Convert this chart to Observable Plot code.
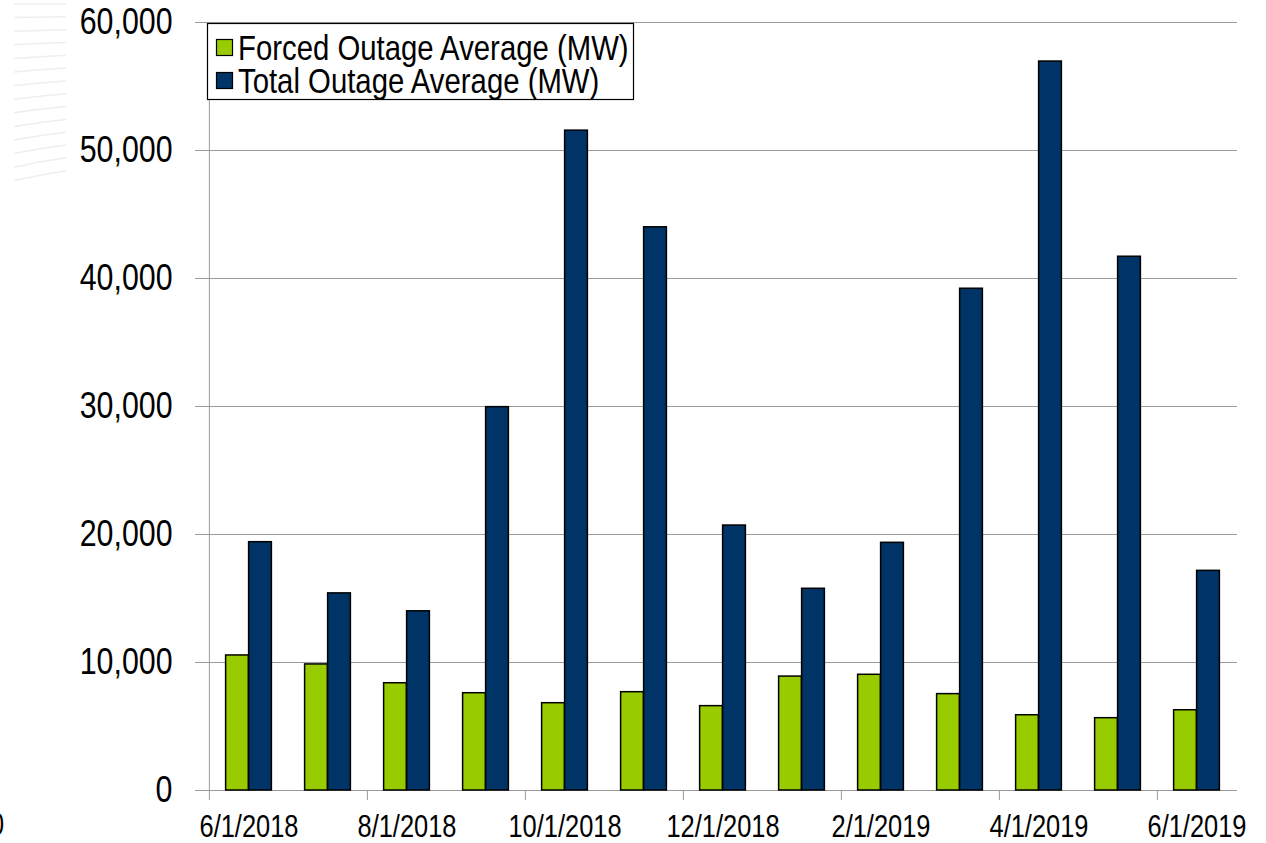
<!DOCTYPE html>
<html><head><meta charset="utf-8">
<script src="https://cdn.jsdelivr.net/npm/d3@7"></script>
<script src="https://cdn.jsdelivr.net/npm/@observablehq/plot@0.6"></script>
<style>
body{margin:0;background:#fff;}
#wrap{position:relative;width:1266px;height:843px;overflow:hidden;}
#overlay{position:absolute;left:0;top:0;pointer-events:none;}
#chart{position:absolute;left:0;top:0;}
</style></head>
<body>
<div id="wrap"><div id="chart"></div><svg id="overlay" width="1266" height="843"></svg></div>
<script>
// ---- data ----
const months = ["6/1/2018","7/1/2018","8/1/2018","9/1/2018","10/1/2018","11/1/2018","12/1/2018",
                "1/1/2019","2/1/2019","3/1/2019","4/1/2019","5/1/2019","6/1/2019"];
const forcedOutage = [10550, 9850, 8380, 7600, 6820, 7680, 6590, 8900, 9040, 7530, 5880, 5650, 6270];
const totalOutage  = [19400, 15400, 14000, 29950, 51550, 44000, 20700, 15760, 19350, 39200, 56950, 41700, 17160];
const seriesNames = ["Forced Outage Average (MW)", "Total Outage Average (MW)"];
const seriesColors = ["#99cc00", "#003366"];
const yTicks = [0, 10000, 20000, 30000, 40000, 50000, 60000];
const xTickLabels = months.filter((d, i) => i % 2 === 0);

// ---- layout ----
const FONT = '"Liberation Sans Narrow","Arial Narrow","Liberation Sans",Arial,sans-serif';
const NARROW = 0.82;
const W = 1266, H = 843, ML = 207, MR = 29, MT = 22, MB = 53;
const bw = (W - ML - MR) / months.length;
const barW = 23;
const GRID = "#9a9a9a";

const rows = months.map((m, i) => ({month: m, forced: forcedOutage[i], total: totalOutage[i]}));

const chart = Plot.plot({
  width: W, height: H,
  marginLeft: ML, marginRight: MR, marginTop: MT, marginBottom: MB,
  style: {fontFamily: FONT, background: "transparent", color: "#000", overflow: "visible"},
  x: {type: "band", domain: months, padding: 0},
  y: {domain: [0, 60000]},
  marks: [
    Plot.gridY({ticks: yTicks, stroke: GRID, strokeOpacity: 1, strokeWidth: 1}),
    Plot.axisY({ticks: yTicks, tickSize: 12, tickPadding: 23, tickFormat: d3.format(","),
                fontSize: 37, stroke: GRID, strokeOpacity: 1, label: null}),
    Plot.ruleX([months[0]], {x: d => d, dx: -bw / 2, y1: 0, y2: 60000, stroke: GRID}),
    Plot.barY(rows, {x: "month", y: "forced", fill: seriesColors[0], stroke: "#000", strokeWidth: 1.5,
                     insetLeft: bw / 2 - barW, insetRight: bw / 2}),
    Plot.barY(rows, {x: "month", y: "total", fill: seriesColors[1], stroke: "#000", strokeWidth: 1.5,
                     insetLeft: bw / 2, insetRight: bw / 2 - barW}),
    Plot.axisX({ticks: xTickLabels, tickSize: 10, tickFormat: () => "", dx: -bw / 2,
                stroke: GRID, strokeOpacity: 1, label: null}),
    Plot.axisX({ticks: xTickLabels, tickSize: 0, tickPadding: 24, fontSize: 31, label: null})
  ]
});
document.getElementById("chart").appendChild(chart);

// ---- overlay: legend, faint watermark, clipped label ----
const ov = d3.select("#overlay");
const wm = ov.append("g").attr("fill", "none").attr("stroke", "#eeeeee").attr("stroke-width", 1.5);
for (let k = 0; k < 14; k++) {
  const y = 4 + k * 13;
  const bend = k * 0.6;
  wm.append("path").attr("d", `M14,${y + bend} Q40,${y + bend * 0.2} 66,${y - bend * 0.3}`);
}
ov.append("text").attr("x", -10).attr("y", 835).attr("font-family", FONT).attr("font-size", 31).text("0");

const lg = ov.append("g").attr("transform", "translate(207,23)");
lg.append("rect").attr("x", 0.5).attr("y", 0.5).attr("width", 426).attr("height", 76)
  .attr("fill", "#fff").attr("stroke", "#000").attr("stroke-width", 1.2);
seriesNames.forEach((name, i) => {
  const cy = 24.5 + i * 33;
  lg.append("rect").attr("x", 9.5).attr("y", cy - 8).attr("width", 16).attr("height", 16)
    .attr("fill", seriesColors[i]).attr("stroke", "#000").attr("stroke-width", 1.2);
  lg.append("text").attr("class", "lgtext").attr("x", 31).attr("y", cy + 12).attr("font-family", FONT)
    .attr("font-size", 34.5).attr("fill", "#000").text(name);
});

// condense all text horizontally to mimic a narrow typeface
document.querySelectorAll("#wrap text").forEach(t => {
  if (!t.textContent) return;
  const len = t.getComputedTextLength();
  const f = t.classList.contains("lgtext") ? 0.85 : NARROW;
  if (len > 0) {
    t.setAttribute("textLength", (len * f).toFixed(1));
    t.setAttribute("lengthAdjust", "spacingAndGlyphs");
  }
});
</script>
</body></html>
